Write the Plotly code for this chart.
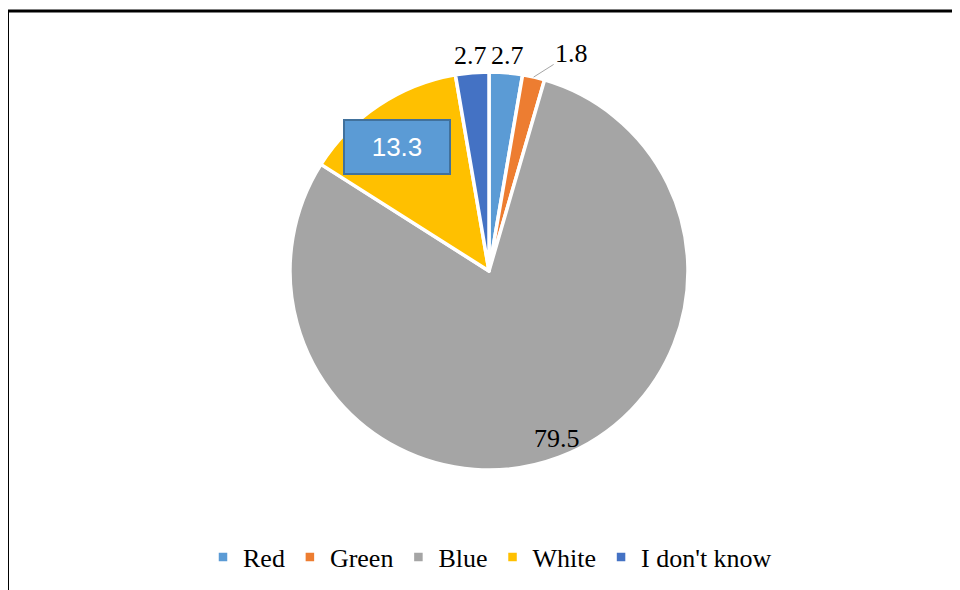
import math
import plotly.graph_objects as go

categories = ["Red", "Green", "Blue", "White", "I don't know"]
values = [2.7, 1.8, 79.5, 13.3, 2.7]
label_text = ["2.7", "1.8", "79.5", "13.3", "2.7"]
colors = ["#5B9BD5", "#ED7D31", "#A5A5A5", "#FFC000", "#4472C4"]

# page has an 8px body margin; figure coordinates = page coordinates - 8
OFF = 8
W, H = 960 - OFF, 590 - OFF
CX, CY, R = 489 - OFF, 271 - OFF, 199

fig = go.Figure(go.Pie(
    labels=categories, values=values, sort=False, direction="clockwise", rotation=0,
    marker=dict(colors=colors, line=dict(color="white", width=3.5)),
    textinfo="none", hoverinfo="label+value",
    domain=dict(x=[(CX - R) / W, (CX + R) / W], y=[(H - CY - R) / H, (H - CY + R) / H]),
))

def px_to_paper(px, py):
    return px / W, 1 - py / H

total = sum(values)
cum = 0
annotations = []
serif = dict(family="Liberation Serif", size=26, color="black")
for cat, v, txt in zip(categories, values, label_text):
    mid = (cum + v / 2) / total * 2 * math.pi
    cum += v
    s, c = math.sin(mid), math.cos(mid)
    common = dict(xref="paper", yref="paper", text=txt, xanchor="center", yanchor="middle")
    if cat == "Blue":
        r = 0.91 * R
        x, y = px_to_paper(CX + r * s + 4, CY - r * c - 2)
        annotations.append(dict(x=x, y=y, showarrow=False, font=serif, **common))
    elif cat == "White":
        r = 0.78 * R
        x, y = px_to_paper(CX + r * s - 6, CY - r * c + 5)
        annotations.append(dict(x=x, y=y, showarrow=False,
                                font=dict(family="Liberation Sans", size=26, color="white"),
                                bgcolor="#5B9BD5", bordercolor="#41719C", borderwidth=2,
                                width=104, height=52, borderpad=0, **common))
    elif cat == "Green":
        x, y = px_to_paper(CX + R * s, CY - R * c)
        annotations.append(dict(x=x, y=y, showarrow=True, arrowhead=0, arrowwidth=1,
                                arrowcolor="#A5A5A5", ax=38, ay=-24, font=serif, **common))
    else:
        r = 1.085 * R
        x, y = px_to_paper(CX + r * s, CY - r * c)
        annotations.append(dict(x=x, y=y, showarrow=False, font=serif, **common))

shapes = [
    dict(type="line", xref="paper", yref="paper", x0=0, x1=1.0, y0=1 - 3 / H, y1=1 - 3 / H,
         line=dict(color="black", width=3)),
    dict(type="line", xref="paper", yref="paper", x0=0, x1=0, y0=1 - 2 / H, y1=0,
         line=dict(color="black", width=2)),
]

fig.update_layout(
    width=W, height=H, margin=dict(l=0, r=0, t=0, b=0),
    paper_bgcolor="white", plot_bgcolor="white",
    annotations=annotations, shapes=shapes,
    showlegend=True,
    legend=dict(orientation="h", x=(490 - OFF) / W, xanchor="center",
                y=1 - (557 - OFF) / H, yanchor="middle",
                font=serif, traceorder="normal"),
)

fig.write_html("out.html")
